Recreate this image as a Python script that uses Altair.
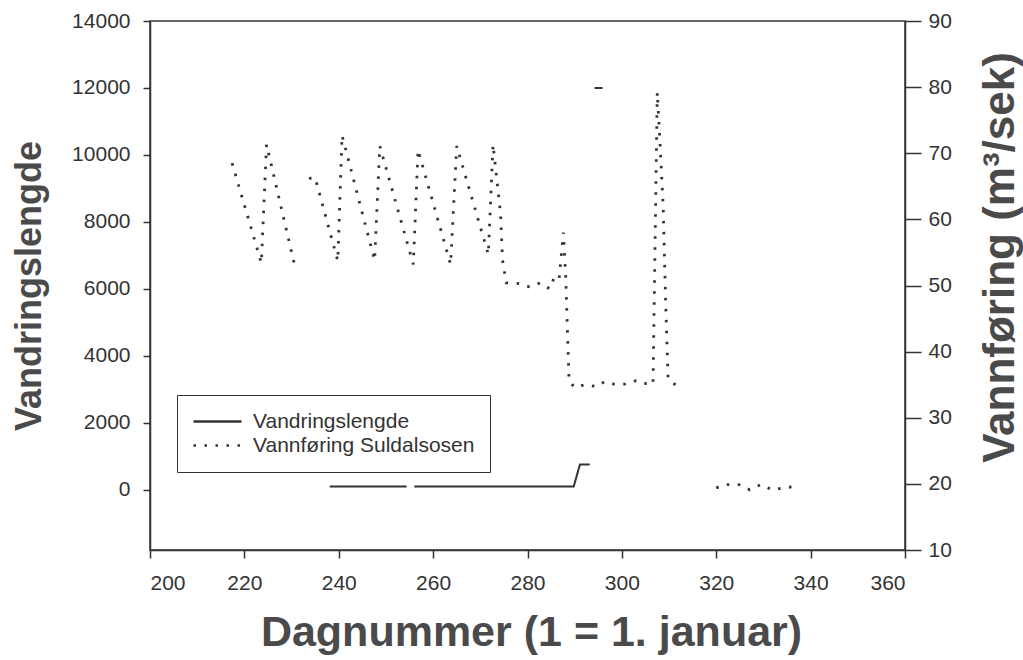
import altair as alt
import pandas as pd

# ---- data ----
serie_len = "Vandringslengde"
serie_flow = "Vannføring Suldalsosen"

# Vandringslengde (left axis), segments separated by gaps
len_day = [238.1, 254.4, 256.0, 289.8, 291.1, 293.2, 294.2, 295.9]
len_val = [100, 100, 100, 100, 750, 750, 12000, 12000]
len_seg = [1, 1, 2, 2, 2, 2, 3, 3]

# Vannføring Suldalsosen (right axis, m3/sek)
flow_day = [217.4, 223.6, 224.7, 230.9,
            233.7, 235.0, 239.8, 240.7, 247.6, 248.7, 255.8, 256.8, 263.7, 265.0,
            271.7, 272.7, 274.3, 274.7, 275.5, 278.2, 280.4, 282.7, 284.7, 285.7,
            286.7, 287.6, 288.1, 288.8, 289.9, 292.3, 294.7, 296.2, 298.3, 300.6,
            303.0, 304.5, 306.6, 307.5, 308.05, 308.75, 309.26, 309.8, 311.8,
            320.0, 322.4, 324.8, 327.1, 329.5, 331.8, 334.3, 336.8]
flow_val = [68.5, 53.4, 71.3, 52.3,
            66.2, 66.3, 53.7, 72.7, 53.8, 71.1, 53.2, 70.5, 53.2, 71.1,
            54.7, 71.3, 60.8, 53.9, 50.4, 50.3, 49.8, 50.4, 49.5, 51.3,
            51.0, 58.0, 51.3, 35.7, 34.6, 35.0, 34.7, 35.4, 35.1, 35.1,
            35.6, 35.2, 35.1, 79.2, 72.0, 62.0, 47.8, 35.9, 34.7,
            19.4, 19.9, 19.9, 19.1, 19.9, 19.1, 19.4, 19.6]
flow_seg = [1] * 4 + [2] * 39 + [3] * 8

x_ticks = [200, 220, 240, 260, 280, 300, 320, 340, 360]
left_ticks = [0, 2000, 4000, 6000, 8000, 10000, 12000, 14000]
right_ticks = [10, 20, 30, 40, 50, 60, 70, 80, 90]

df_len = pd.DataFrame({"dag": len_day, "verdi": len_val, "seg": len_seg, "serie": serie_len})
df_flow = pd.DataFrame({"dag": flow_day, "verdi": flow_val, "seg": flow_seg, "serie": serie_flow})

FONT = "Liberation Sans"
INK = "#333333"

x_enc = alt.X("dag:Q", scale=alt.Scale(domain=[200, 360], nice=False, zero=False),
              axis=alt.Axis(values=x_ticks, format="d", title="Dagnummer (1 = 1. januar)",
                            titleFontSize=43, titleX=381, titleY=95,
                            titleBaseline="alphabetic", titleAlign="center",
                            tickSize=8, labelPadding=14))

dash_scale = alt.Scale(domain=[serie_len, serie_flow], range=[[1, 0], [2.5, 8.5]])
legend = alt.Legend(title=None, orient="none", legendX=27, legendY=374,
                    direction="vertical", strokeColor=INK, padding=15,
                    labelFontSize=21, labelFont=FONT, labelColor=INK, labelLimit=500,
                    symbolType="M-2,0H2", symbolSize=576, symbolStrokeWidth=2.4,
                    symbolStrokeColor=INK, symbolFillColor="transparent",
                    symbolOffset=12, labelOffset=22, clipHeight=23, rowPadding=1)

len_layer = alt.Chart(df_len).mark_line(color=INK, strokeWidth=2).encode(
    x=x_enc,
    y=alt.Y("verdi:Q", scale=alt.Scale(domain=[-1800, 14000], nice=False, zero=False),
            axis=alt.Axis(orient="left", values=left_ticks, format="d", title="Vandringslengde",
                          titleFontSize=36, titleAngle=270, titleX=-121, titleY=264.5,
                          titleAlign="center", titleBaseline="middle",
                          tickSize=7, labelPadding=13)),
    detail="seg:N",
    strokeDash=alt.StrokeDash("serie:N", scale=dash_scale, legend=legend),
)

flow_layer = alt.Chart(df_flow).mark_line(color=INK, strokeWidth=2.8).encode(
    x=x_enc,
    y=alt.Y("verdi:Q", scale=alt.Scale(domain=[10, 90], nice=False, zero=False),
            axis=alt.Axis(orient="right", values=right_ticks, format="d",
                          title="Vannføring (m³/sek)",
                          titleFontSize=44, titleAngle=270, titleX=95, titleY=236,
                          titleAlign="center", titleBaseline="middle",
                          tickSize=16, labelPadding=7)),
    detail="seg:N",
    strokeDash=alt.StrokeDash("serie:N", scale=dash_scale, legend=legend),
)

chart = alt.layer(len_layer, flow_layer).resolve_scale(y="independent").properties(
    width=755, height=529,
    autosize=alt.AutoSizeParams(type="none"),
    padding={"left": 150, "top": 21, "right": 118, "bottom": 110},
    background="white",
).configure_view(stroke=INK, strokeWidth=1.5).configure_axis(
    grid=False, domainColor=INK, domainWidth=1.5, tickColor=INK, tickWidth=1.5,
    labelFont=FONT, labelFontSize=21, labelColor=INK,
    titleFont=FONT, titleFontWeight="bold", titleColor="#4a4a4a",
)

chart.save("out.html", embed_options={"renderer": "svg", "actions": False})
